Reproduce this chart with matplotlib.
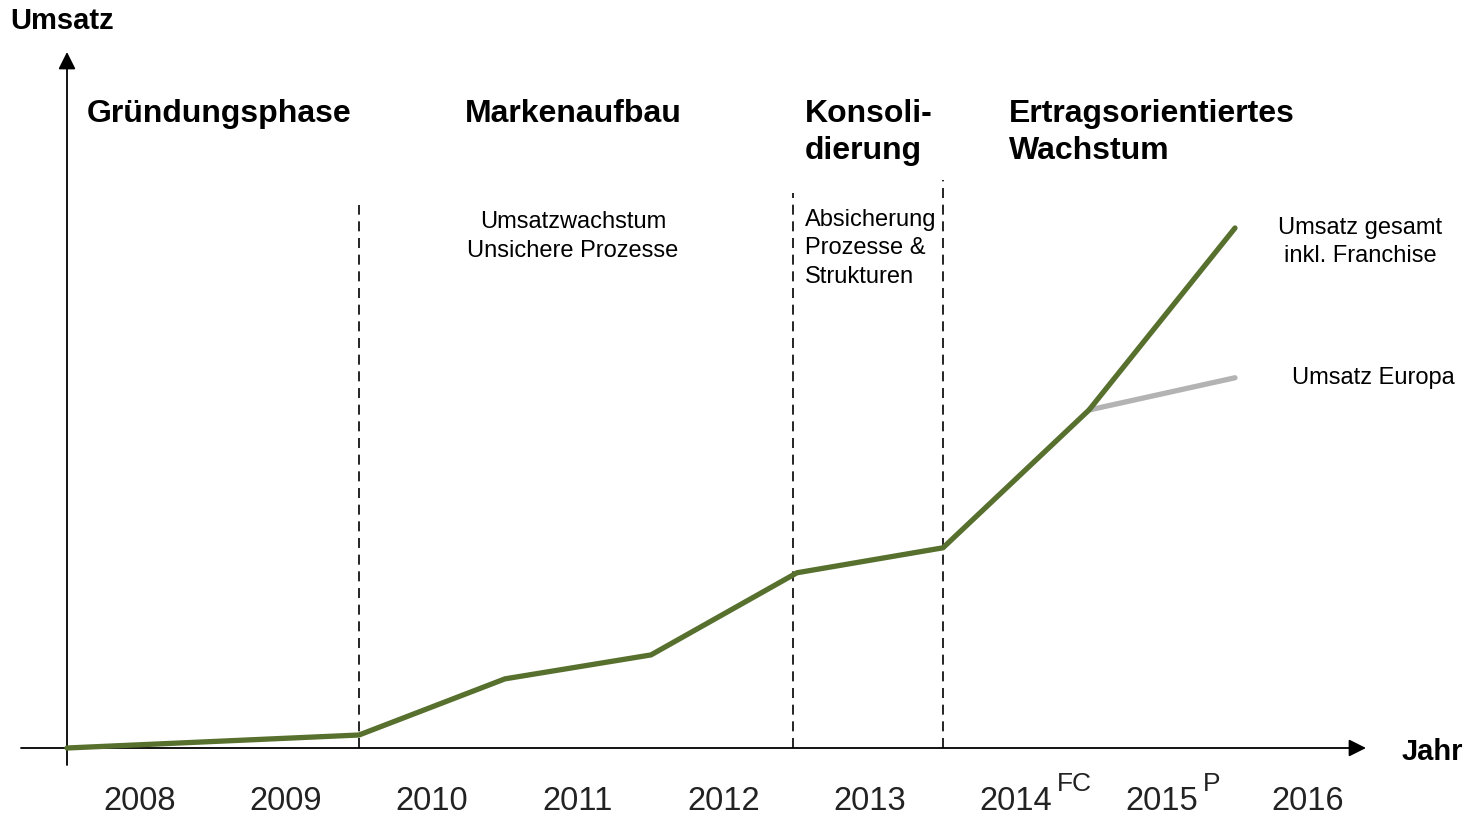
import matplotlib
matplotlib.use("Agg")
import matplotlib.pyplot as plt

plt.rcParams["font.family"] = ["Liberation Sans", "DejaVu Sans"]

# ------------------------------------------------------------
# DATA (revenue in arbitrary units, points at year boundaries)
# ------------------------------------------------------------
years = ["2008", "2009", "2010", "2011", "2012", "2013", "2014", "2015", "2016"]
year_sup = ["", "", "", "", "", "", "FC", "P", ""]

x_boundary = [0, 2, 3, 4, 5, 6, 7, 8]
umsatz_gesamt = [0.0, 2.5, 13.3, 17.9, 33.7, 38.5, 65.0, 100.0]

x_europa = [7, 8]
umsatz_europa = [65.0, 71.2]

phase_borders = [2, 4.97, 6]
phase_border_top = [104.4, 106.7, 109.2]

phase_titles = ["Gründungsphase", "Markenaufbau", "Konsoli-\ndierung",
                "Ertragsorientiertes\nWachstum"]
phase_notes = ["", "Umsatzwachstum\nUnsichere Prozesse",
               "Absicherung\nProzesse &\nStrukturen", ""]

# pixel layout of the original slide: x0=67px, 146px per year, 5.2px per unit
W, H = 1468, 819
X0, XS = 67, 146
Y0, YS = 748, 5.2


def at(px, py):
    """pixel position on the slide -> data coordinates"""
    return (px - X0) / XS, (Y0 - py) / YS


fig = plt.figure(figsize=(W / 100, H / 100), dpi=100)
ax = fig.add_axes([0, 0, 1, 1])
ax.set_xlim(at(0, 0)[0], at(W, 0)[0])
ax.set_ylim(at(0, H)[1], at(0, 0)[1])
ax.axis("off")

# axes with arrow heads
arrow = dict(arrowstyle="-|>", color="black", lw=1.3, mutation_scale=26,
             shrinkA=0, shrinkB=0)
ax.annotate("", xy=at(1366, Y0), xytext=at(21, Y0), arrowprops=arrow)
ax.annotate("", xy=at(X0, 52), xytext=at(X0, 765), arrowprops=arrow)

# phase borders
for xb, top in zip(phase_borders, phase_border_top):
    ax.plot([xb, xb], [0, top], color="black", lw=1.2, ls=(0, (6, 4)))

# revenue lines
ax.plot(x_europa, umsatz_europa, color="#b3b3b3", lw=3.8,
        solid_capstyle="round", zorder=3)
ax.plot(x_boundary, umsatz_gesamt, color="#57702e", lw=3.8,
        solid_capstyle="round", solid_joinstyle="round", zorder=4)

# year labels
for i, (yr, sup) in enumerate(zip(years, year_sup)):
    ax.text(i + 0.5, at(0, 801)[1], yr, fontsize=23.5, color="#222222",
            ha="center", va="center")
    if sup:
        ax.text(i + 0.5 + 41 / XS, at(0, 784)[1], sup, fontsize=19,
                color="#222222", ha="left", va="center")

# axis titles
ax.text(*at(10, 21), "Umsatz", fontsize=21, fontweight="bold", va="center")
ax.text(*at(1402, 752), "Jahr", fontsize=21, fontweight="bold", va="center")

# phase titles
title_pos = [(87, 112), (465, 112), (805, 112), (1009, 112)]
for (tx, ty), t in zip(title_pos, phase_titles):
    ax.text(*at(tx, ty - 13), t, fontsize=23, fontweight="bold",
            ha="left", va="top", linespacing=1.32)

# phase notes
ax.text(*at(573, 211), phase_notes[1], fontsize=17, ha="center", va="top",
        linespacing=1.42)
ax.text(*at(805, 209), phase_notes[2], fontsize=17, ha="left", va="top",
        linespacing=1.38)

# line labels
ax.text(*at(1360, 217), "Umsatz gesamt\ninkl. Franchise", fontsize=17,
        ha="center", va="top", linespacing=1.38)
ax.text(*at(1292, 378), "Umsatz Europa", fontsize=17, ha="left", va="center")

fig.savefig("out.png", dpi=100)
